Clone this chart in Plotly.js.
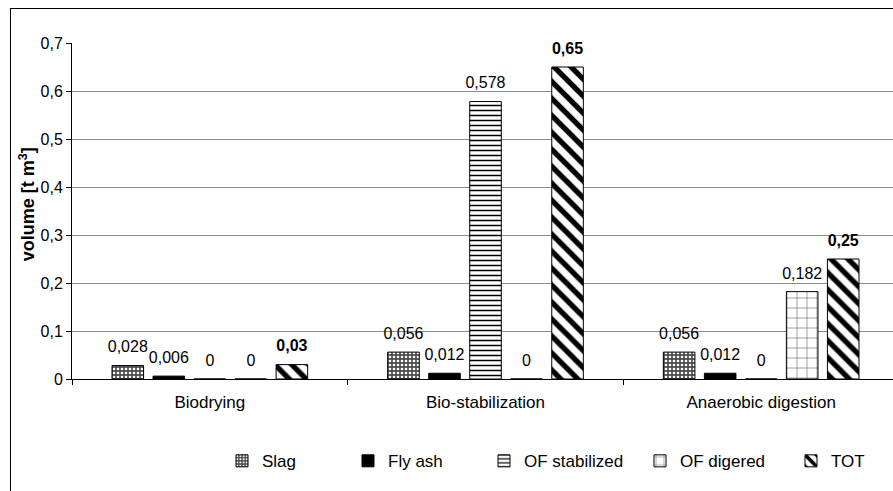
<!DOCTYPE html>
<html>
<head>
<meta charset="utf-8">
<script src="https://cdn.plot.ly/plotly-3.0.1.min.js"></script>
<style>
  html, body { margin: 0; padding: 0; overflow: hidden; background: #fff; width: 893px; height: 491px; }
  #chart { position: absolute; left: 0; top: 0; width: 920px; height: 491px; }
  #frame { position: absolute; left: 10px; top: 8px; width: 2000px; height: 2000px; border: 1px solid #000; pointer-events: none; }
</style>
</head>
<body>
<div id="chart"></div>
<div id="frame"></div>
<script>
// ---- data ----
const categories = ['Biodrying', 'Bio-stabilization', 'Anaerobic digestion'];
const seriesNames = ['Slag', 'Fly ash', 'OF stabilized', 'OF digered', 'TOT'];
const slag         = [0.028, 0.056, 0.056];
const flyAsh       = [0.006, 0.012, 0.012];
const ofStabilized = [0, 0.578, 0];
const ofDigered    = [0, 0, 0.182];
const tot          = [0.03, 0.65, 0.25];
const yTicks       = [0, 0.1, 0.2, 0.3, 0.4, 0.5, 0.6, 0.7];

const seriesValues = [slag, flyAsh, ofStabilized, ofDigered, tot];

// ---- styles ----
const FONT = 'Liberation Sans, Arial, sans-serif';
const PLOT_L = 72, PLOT_W = 827, PLOT_B = 386, PLOT_H = 343;
const patterns = [
  {shape: '.', fgcolor: '#ffffff', bgcolor: '#4d4d4d', size: 4, solidity: 0.35},
  {shape: '', fgcolor: '#000000', bgcolor: '#000000'},
  {shape: '-', fgcolor: '#000000', bgcolor: '#ffffff', size: 5, solidity: 0.3},
  {shape: '+', fgcolor: '#666666', bgcolor: '#ffffff', size: 10, solidity: 0.12},
  {shape: '\\', fgcolor: '#000000', bgcolor: '#ffffff', size: 12, solidity: 0.45}
];
const fillColors = ['#4d4d4d', '#000000', '#ffffff', '#ffffff', '#ffffff'];
const legendIds = ['legend', 'legend2', 'legend3', 'legend4', 'legend5'];
const legendLeftPx = [222, 348, 484, 640, 791];
const legendCenterYPx = 470;

const fmt = v => String(v).replace('.', ',');

const traces = [];
seriesNames.forEach((name, i) => {
  traces.push({
    type: 'bar',
    name: name,
    legend: legendIds[i],
    x: categories,
    y: seriesValues[i],
    marker: {
      color: fillColors[i],
      line: {color: '#000000', width: 1},
      pattern: patterns[i]
    },
    hoverinfo: 'skip'
  });
});
seriesNames.forEach((name, i) => {
  traces.push({
    type: 'scatter',
    mode: 'markers+text',
    orientation: 'v',
    x: categories,
    y: seriesValues[i],
    text: seriesValues[i].map(fmt),
    textposition: 'top center',
    textfont: {family: FONT, size: 16, color: '#000', weight: i === 4 ? 'bold' : 'normal'},
    marker: {size: 13, opacity: 0},
    showlegend: false,
    hoverinfo: 'skip',
    cliponaxis: false
  });
});

const layout = {
  width: 920,
  height: 491,
  margin: {l: PLOT_L, r: 920 - PLOT_L - PLOT_W, t: PLOT_B - PLOT_H, b: 491 - PLOT_B},
  paper_bgcolor: 'rgba(0,0,0,0)',
  plot_bgcolor: '#ffffff',
  separators: ',.',
  barmode: 'group',
  bargap: 0.256,
  bargroupgap: 0.23,
  scattermode: 'group',
  scattergap: 0.256,
  showlegend: true,
  font: {family: FONT, size: 16, color: '#000'},
  xaxis: {
    type: 'category',
    showline: true,
    linecolor: '#000',
    linewidth: 1,
    ticks: 'outside',
    tickson: 'boundaries',
    ticklen: 5,
    tickcolor: '#000',
    ticklabelstandoff: 8,
    showgrid: false,
    tickfont: {family: FONT, size: 17, color: '#000'},
    fixedrange: true
  },
  yaxis: {
    range: [0, 0.7],
    tickvals: yTicks,
    showline: true,
    linecolor: '#000',
    linewidth: 1,
    ticks: 'outside',
    ticklen: 5,
    tickcolor: '#000',
    showgrid: true,
    gridcolor: '#8c8c8c',
    gridwidth: 1,
    zeroline: false,
    tickfont: {family: FONT, size: 16, color: '#000'},
    fixedrange: true
  },
  annotations: [{
    text: '<b>volume [t m<sup>3</sup>]</b>',
    xref: 'paper', yref: 'paper',
    x: (27 - PLOT_L) / PLOT_W, y: 0.52,
    xanchor: 'center', yanchor: 'middle',
    textangle: -90,
    showarrow: false,
    font: {family: FONT, size: 18, color: '#000'}
  }]
};

legendIds.forEach((id, i) => {
  layout[id] = {
    orientation: 'h',
    x: (legendLeftPx[i] - PLOT_L) / PLOT_W,
    xanchor: 'left',
    y: (PLOT_B - legendCenterYPx) / PLOT_H,
    yanchor: 'middle',
    font: {family: FONT, size: 17, color: '#000'},
    itemwidth: 30,
    bgcolor: 'rgba(0,0,0,0)'
  };
});

Plotly.newPlot('chart', traces, layout, {staticPlot: true, displayModeBar: false});
</script>
</body>
</html>
